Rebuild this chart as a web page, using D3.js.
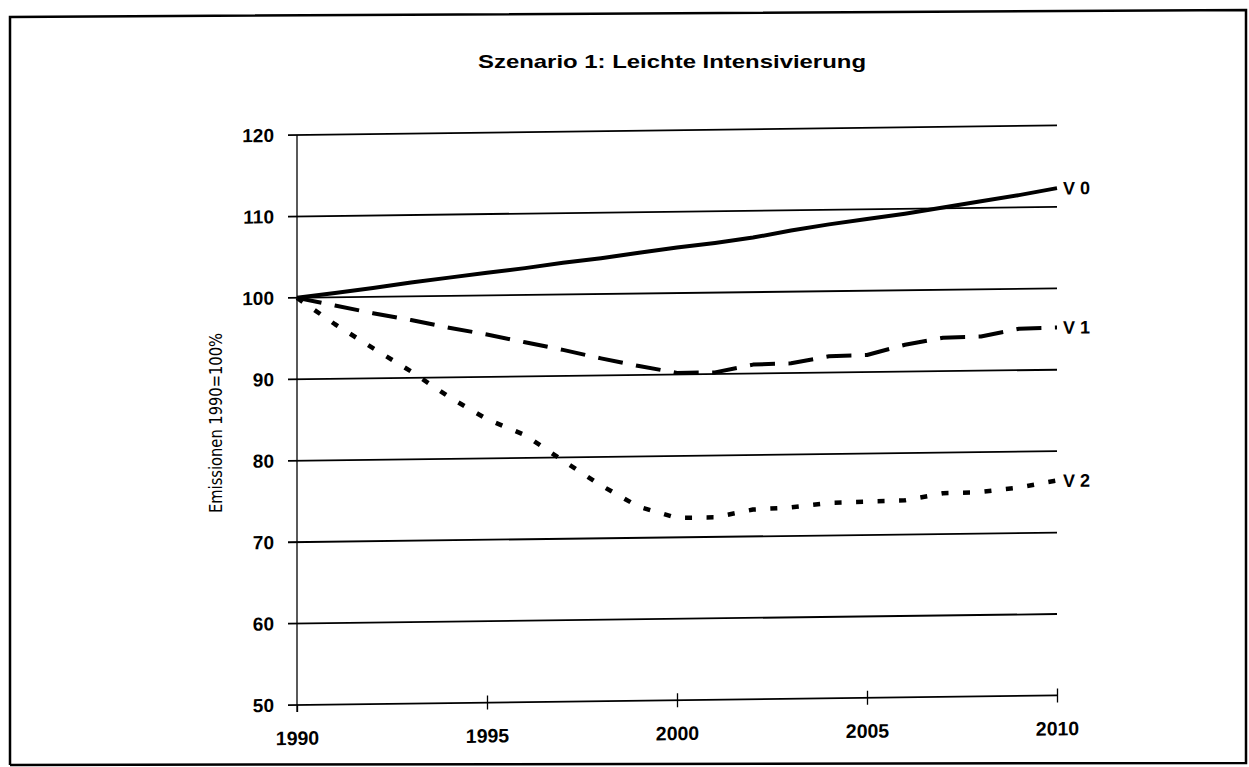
<!DOCTYPE html>
<html>
<head>
<meta charset="utf-8">
<script src="https://cdn.jsdelivr.net/npm/d3@7"></script>
<style>
  body { margin: 0; background: #fff; }
  svg { display: block; }
  text { fill: #000; }
</style>
</head>
<body>
<script>
// data (index 1990 = 100)
const years = d3.range(1990, 2011);
const v0 = [100, 100.55, 101.1, 101.7, 102.25, 102.8, 103.3, 103.9, 104.4, 105.0,
  105.6, 106.1, 106.7, 107.5, 108.2, 108.8, 109.4, 110.1, 110.8, 111.5, 112.3];
const v1 = [100, 99.0, 98.0, 97.1, 96.1, 95.2, 94.2, 93.2, 92.1, 91.1,
  90.2, 90.2, 91.1, 91.2, 92.0, 92.1, 93.3, 94.1, 94.2, 95.1, 95.2];
const v2 = [100, 96.7, 93.7, 90.8, 87.6, 84.8, 82.8, 79.6, 76.5, 73.8,
  72.4, 72.4, 73.3, 73.5, 74.0, 74.1, 74.2, 75.0, 75.1, 75.6, 76.4];
const seriesNames = ['V 0', 'V 1', 'V 2'];
const yTicks = [50, 60, 70, 80, 90, 100, 110, 120];
const xTicks = [1990, 1995, 2000, 2005, 2010];
const title = 'Szenario 1: Leichte Intensivierung';
const yLabel = 'Emissionen 1990=100%';

const W = 1249, H = 767;
const ox = 297, oy = 135,
  width = 760,
  height = 570;

const svg = d3.select('body')
  .append('svg')
  .attr('width', W)
  .attr('height', H);

// frame round the figure (scan is a bit crooked)
svg.append('path')
  .attr('d', 'M10,765 L10,17 L1246,10 L1246,763 L10,765')
  .attr('fill', 'none')
  .attr('stroke', '#000')
  .attr('stroke-width', 2.5);

svg.append('text')
  .attr('x', 672)
  .attr('y', 68)
  .attr('text-anchor', 'middle')
  .attr('font-family', 'Liberation Sans, Arial, sans-serif')
  .attr('font-weight', 'bold')
  .attr('font-size', 18.5)
  .attr('textLength', 388)
  .attr('lengthAdjust', 'spacingAndGlyphs')
  .text(title);

svg.append('text')
  .attr('transform', 'translate(222,423) rotate(-90)')
  .attr('text-anchor', 'middle')
  .attr('font-family', 'Liberation Sans Narrow, DejaVu Sans Condensed, sans-serif')
  .attr('font-size', 18)
  .attr('textLength', 180)
  .attr('lengthAdjust', 'spacingAndGlyphs')
  .text(yLabel);

const x = d3.scaleLinear()
  .domain([1990, 2010])
  .range([0, width]);

const y = d3.scaleLinear()
  .domain([50, 120])
  .range([height, 0]);

// slight skew like the photocopy
const g = svg.append('g')
  .attr('transform', `translate(${ox},${oy}) skewY(-0.72)`);

g.selectAll('line.grid')
  .data(yTicks)
  .enter()
  .append('line')
  .classed('grid', true)
  .attr('x1', -9)
  .attr('x2', x(2010))
  .attr('y1', d => y(d))
  .attr('y2', d => y(d))
  .attr('stroke', '#000')
  .attr('stroke-width', 1.8);

g.append('line')
  .attr('x1', 0).attr('x2', 0)
  .attr('y1', y(120))
  .attr('y2', y(50) + 7)
  .attr('stroke', '#000')
  .attr('stroke-width', 1.3);

const yAxis = d3.axisLeft(y)
  .tickValues(yTicks)
  .tickSize(0)
  .tickPadding(23);

g.append('g')
  .classed('y axis', true)
  .call(yAxis)
  .call(a => a.select('.domain').remove())
  .selectAll('text')
  .attr('font-family', 'Liberation Sans, Arial, sans-serif')
  .attr('font-weight', 'bold')
  .attr('font-size', 19)
  .attr('fill', '#000');

const xAxis = d3.axisBottom(x)
  .tickValues(xTicks)
  .tickFormat(d3.format('d'))
  .tickSize(7);

g.append('g')
  .classed('x axis', true)
  .attr('transform', `translate(0,${height})`)
  .call(xAxis)
  .call(a => a.select('.domain').remove())
  .call(a => a.selectAll('.tick line')
    .attr('y1', d => d === 1990 ? 0 : -7)
    .attr('stroke', '#000')
    .attr('stroke-width', 1.3))
  .selectAll('text')
  .attr('y', 40)
  .attr('dy', null)
  .attr('font-family', 'Liberation Sans, Arial, sans-serif')
  .attr('font-weight', 'bold')
  .attr('font-size', 19.5)
  .attr('fill', '#000');

const series = [v0, v1, v2];
const dashes = [null, '25,13.5', '7,14.5'];
const widths = [4, 4, 4.5];

const line = d3.line()
  .x((d, i) => x(years[i]))
  .y(d => y(d));

g.selectAll('path.series')
  .data(series)
  .enter()
  .append('path')
  .classed('series', true)
  .attr('d', d => line(d))
  .attr('fill', 'none')
  .attr('stroke', '#000')
  .attr('stroke-width', (d, i) => widths[i])
  .attr('stroke-dasharray', (d, i) => dashes[i])
  .attr('stroke-linejoin', 'round');

g.selectAll('text.lab')
  .data(series)
  .enter()
  .append('text')
  .classed('lab', true)
  .attr('x', x(2010) + 6)
  .attr('y', d => y(d[d.length - 1]))
  .attr('dy', '0.36em')
  .attr('font-family', 'Liberation Sans, Arial, sans-serif')
  .attr('font-weight', 'bold')
  .attr('font-size', 18)
  .text((d, i) => seriesNames[i]);
</script>
</body>
</html>
